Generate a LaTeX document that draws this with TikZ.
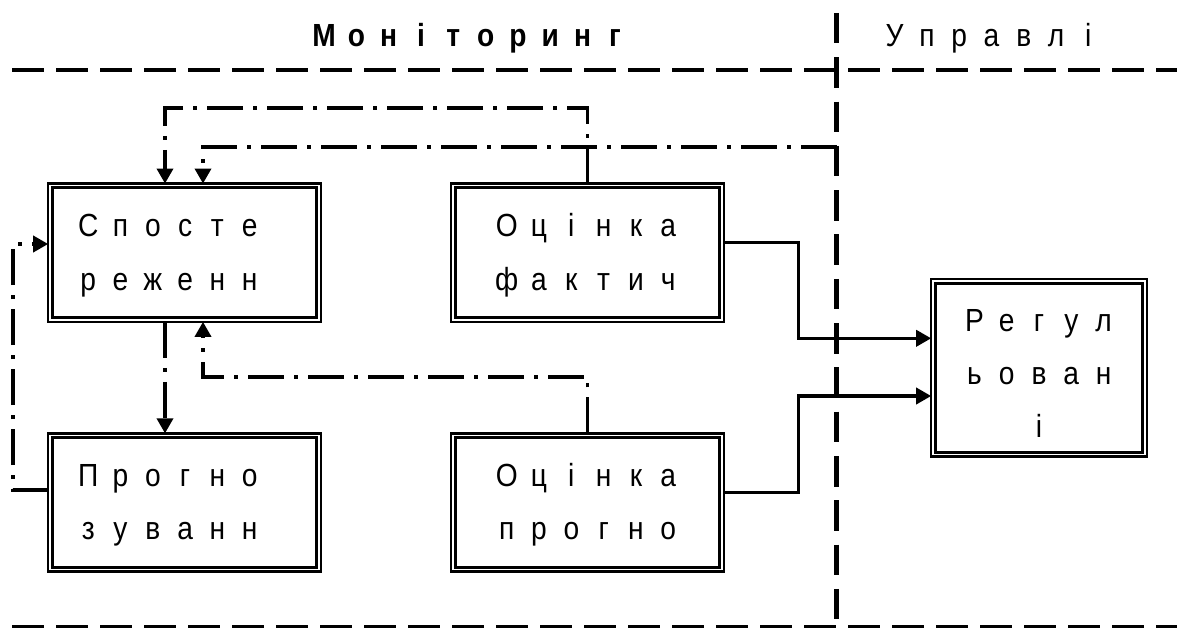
\documentclass[tikz,border=0pt]{standalone}
\usepackage{fontspec}
\setmainfont{Liberation Sans}
\newfontfamily\lab[FakeStretch=0.88]{Liberation Sans}
\usetikzlibrary{arrows.meta}
\newlength\lsppitch
\setlength\lsppitch{32.3pt}
\makeatletter
\def\lsp#1{\lsp@aux#1\relax}
\def\lsp@aux#1{\ifx\relax#1\else\makebox[\lsppitch][c]{#1}\expandafter\lsp@aux\fi}
\makeatother
\newcommand\hstr[1]{\rule{0pt}{#1}}
\newcommand\dstr{\rule[-7pt]{0pt}{7pt}}
\newcommand\lpad{\makebox[31pt]{}}
\tikzset{
  box/.style={draw, line width=2.4pt, outer sep=0pt, inner sep=0pt,
    minimum width=272.6pt, minimum height=138.3pt, align=center,
    font=\lab\fontsize{32}{53}\selectfont},
  inbox/.style={line width=3.3pt},
  dd/.style={line width=3.5pt, dash pattern=on 36pt off 10pt on 4pt off 10pt},
  conn/.style={line width=3.5pt},
  tip/.style={-{Triangle[length=15pt,width=16pt]}},
  bnd/.style={line width=4.5pt, dash pattern=on 32pt off 12pt},
  vbnd/.style={line width=4.5pt, dash pattern=on 30.5pt off 13.8pt},
  ttl/.style={anchor=base, inner sep=0pt, font=\lab\fontsize{32}{38}\selectfont}
}
\begin{document}
\begin{tikzpicture}[x=1pt, y=-1pt]
\useasboundingbox (0,0) rectangle (1177,628);
% boundaries
\draw[bnd] (12,70) -- (1177,70);
\draw[bnd] (12,627) -- (1177,627);
\draw[vbnd] (836.5,13) -- (836.5,620);
% titles
\node[ttl, font=\lab\bfseries\fontsize{32}{38}\selectfont] (t1) at (469.5,47) {\lsp{Моніторинг}};
\node[ttl] (t2) at (991.5,47) {\lsp{Управлі}};
% boxes
\node[box] (sp) at (184.5,252.7) {\hstr{28.6pt}\lsp{Спосте}\lpad\\\lsp{реженн}\lpad\dstr};
\node[box] (of) at (587.5,252.7) {\hstr{28.6pt}\lsp{Оцінка}\\\lsp{фактич}\dstr};
\node[box] (pr) at (184.5,502.5) {\hstr{28.6pt}\lsp{Прогно}\lpad\\\lsp{зуванн}\lpad\dstr};
\node[box] (op) at (587.5,502.5) {\hstr{28.6pt}\lsp{Оцінка}\\\lsp{прогно}\dstr};
\node[box, minimum width=215.6pt, minimum height=177.3pt] (rg) at (1039,367.8)
  {\hstr{40.8pt}\lsp{Регул}\\\lsp{ьован}\\\lsp{і}\dstr};
\foreach \n in {sp,of,pr,op,rg}
  \draw[inbox] ([xshift=4.3pt,yshift=-4.3pt]\n.north west) rectangle ([xshift=-4.3pt,yshift=4.3pt]\n.south east);
% dash-dot connectors
\coordinate (bd) at (836.5,147);
\draw[dd, tip] (of.north) -- (of.north |- 0,108) -| ([xshift=-19.5pt]sp.north);
\draw[dd, tip] (bd) -| ([xshift=18.5pt]sp.north);
\draw[dd, tip] ([xshift=-19.5pt]sp.south) -- ([xshift=-19.5pt]pr.north);
\draw[dd, tip] (op.north) -- (op.north |- 0,377) -| ([xshift=18.5pt]sp.south);
\draw[dd, tip] ([yshift=12.5pt]pr.west) -- ++(-35,0) |- ([yshift=8.7pt]sp.west);
% solid connectors
\draw[conn, tip] ([yshift=10.2pt]of.east) -- ++(74.5,0) |- ([yshift=29.5pt]rg.west);
\draw[conn, tip] ([yshift=9.8pt]op.east) -- ++(74.5,0) |- ([yshift=-28.2pt]rg.west);
\end{tikzpicture}
\end{document}
